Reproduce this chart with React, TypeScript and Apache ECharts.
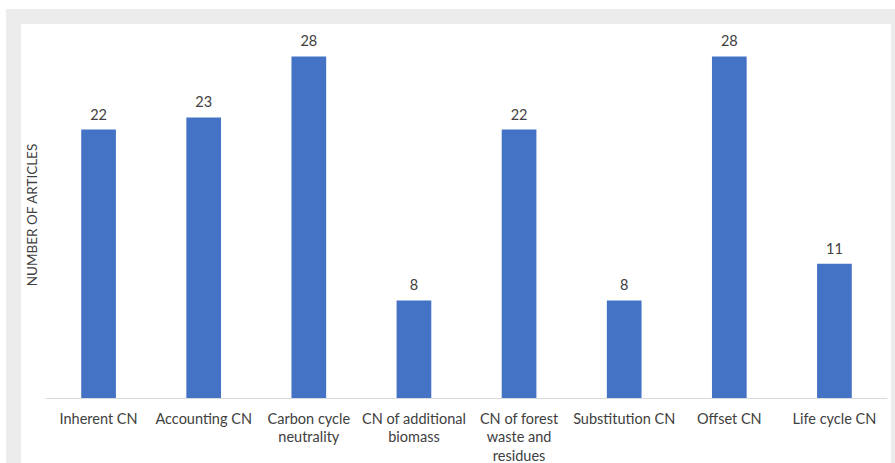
import React, { useEffect, useRef } from "react";
import * as echarts from "echarts";

const categories = [
  "Inherent CN",
  "Accounting CN",
  "Carbon cycle\nneutrality",
  "CN of additional\nbiomass",
  "CN of forest\nwaste and\nresidues",
  "Substitution CN",
  "Offset CN",
  "Life cycle CN",
];
const articleCounts = [22, 23, 28, 8, 22, 8, 28, 11];
const yAxisTitle = "NUMBER OF ARTICLES";

export default function App() {
  const ref = useRef<HTMLDivElement>(null);
  useEffect(() => {
    document.body.style.margin = "0";
    const chart = echarts.init(ref.current!, null, { renderer: "svg" });
    chart.setOption({
      animation: false,
      textStyle: { fontFamily: "Lato" },
      grid: { left: 46, right: 8, top: 32, bottom: 65, containLabel: false, outerBoundsMode: "none" },
      xAxis: {
        type: "category",
        data: categories,
        axisLine: { lineStyle: { color: "#d9d9d9", width: 1 } },
        axisTick: { show: false },
        axisLabel: {
          color: "#404040",
          fontSize: 14.5,
          fontFamily: "Lato",
          lineHeight: 18.5,
          margin: 11,
          interval: 0,
        },
      },
      yAxis: {
        type: "value",
        min: 0,
        max: 30,
        interval: 5,
        axisLine: { show: false },
        axisTick: { show: false },
        axisLabel: { show: false },
        splitLine: { show: false },
        name: yAxisTitle,
        nameLocation: "middle",
        nameGap: 7,
        nameTextStyle: { color: "#404040", fontSize: 13.5, fontFamily: "Lato" },
      },
      series: [
        {
          type: "bar",
          data: articleCounts,
          barWidth: "33%",
          itemStyle: { color: "#4472C4" },
          label: {
            show: true,
            position: "top",
            distance: 8,
            color: "#404040",
            fontSize: 14.5,
            fontFamily: "Lato",
          },
        },
      ],
    });
    return () => chart.dispose();
  }, []);
  return (
    <div style={{ position: "absolute", left: 0, top: 0, width: 895, height: 463, background: "#ffffff", overflow: "hidden" }}>
      <div style={{ position: "absolute", left: 6, top: 9, width: 889, height: 454, background: "#ececec" }} />
      <div style={{ position: "absolute", left: 21, top: 24, width: 870, height: 439, background: "#ffffff" }} />
      <div ref={ref} style={{ position: "absolute", left: 0, top: 0, width: 895, height: 463 }} />
    </div>
  );
}
